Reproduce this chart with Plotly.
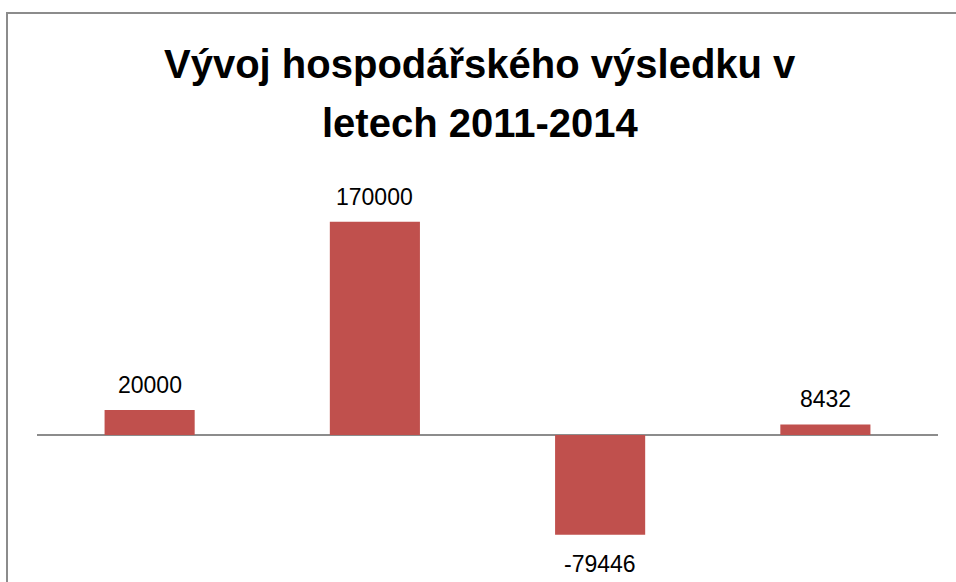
import plotly.graph_objects as go

categories = ["2011", "2012", "2013", "2014"]
values = [20000, 170000, -79446, 8432]
labels = ["20000", "170000", "-79446", "8432"]
title_lines = ["Vývoj hospodářského výsledku v", "letech 2011-2014"]

W, H = 956, 582
ML, MR, MT, MB = 37, 18, 180, 22
plot_w = W - ML - MR
plot_h = H - MT - MB


def px_x(p):
    return (p - ML) / plot_w


def px_y(p):
    return (H - MB - p) / plot_h


fig = go.Figure()
fig.add_trace(go.Bar(
    x=categories, y=values, width=0.4,
    marker=dict(color="#C0504D", line=dict(width=0)),
    hoverinfo="x+y",
))

for i, (v, t) in enumerate(zip(values, labels)):
    fig.add_annotation(
        x=i, y=v, text=t, showarrow=False,
        yanchor="bottom" if v >= 0 else "top",
        yshift=10 if v >= 0 else -14,
        font=dict(family="Liberation Sans, Arial, sans-serif", size=23, color="#000000"),
    )

title_font = dict(family="Liberation Sans, Arial, sans-serif", size=40,
                  color="#000000", weight="bold")
for line, cy in zip(title_lines, [64, 123]):
    fig.add_annotation(
        xref="paper", yref="paper", x=px_x(480), y=px_y(cy),
        text=line, showarrow=False, xanchor="center", yanchor="middle",
        font=title_font,
    )

# chart-area border (extends past the right and bottom edges of the picture)
fig.add_shape(
    type="rect", xref="paper", yref="paper",
    x0=px_x(7), x1=px_x(W + 10),
    y0=px_y(H + 10), y1=px_y(13),
    line=dict(color="#8C8C8C", width=2), fillcolor="rgba(0,0,0,0)", layer="below",
)

fig.update_layout(
    width=W, height=H,
    margin=dict(l=ML, r=MR, t=MT, b=MB),
    paper_bgcolor="white", plot_bgcolor="white",
    showlegend=False,
    xaxis=dict(type="category", range=[-0.5, len(categories) - 0.5],
               showticklabels=False, showgrid=False, zeroline=False,
               showline=False, ticks=""),
    yaxis=dict(range=[-99617, 203220], showticklabels=False, showgrid=False,
               zeroline=True, zerolinecolor="#8C8C8C", zerolinewidth=2,
               showline=False, ticks=""),
)

fig.write_html("out.html", config={"displayModeBar": False},
               post_script="document.body.style.margin='0';")
